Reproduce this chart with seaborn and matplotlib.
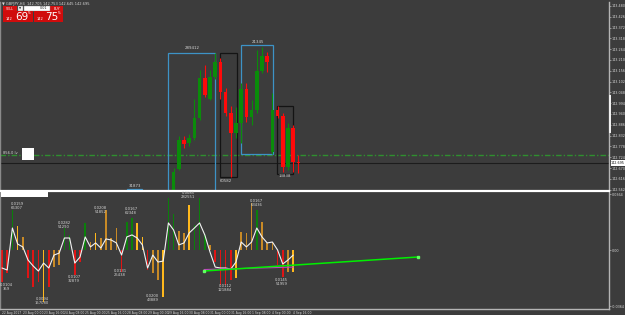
import numpy as np
import pandas as pd
import matplotlib
matplotlib.use("Agg")
import matplotlib.pyplot as plt
import seaborn as sns
from matplotlib.patches import Rectangle

sns.set_theme(style="dark")
plt.rcParams['font.family'] = ['DejaVu Sans']

# ---------------- data ----------------
title_text = "\u25bc GBPJPY,H4  142.705 142.753 142.645 142.695"

candle_index = list(range(33, 58))
candle_open = [142.530, 142.665, 142.810, 142.795, 142.820, 142.920, 143.120, 143.015, 143.125,
               143.200, 143.050, 142.945, 142.845, 142.895, 143.065, 142.925, 142.960, 143.155,
               143.230, 142.750, 142.960, 142.930, 142.675, 142.870, 142.700]
candle_high = [142.670, 142.830, 142.830, 142.840, 143.015, 143.160, 143.185, 143.160, 143.245,
               143.220, 143.070, 142.980, 142.975, 143.095, 143.095, 143.010, 143.260, 143.275,
               143.250, 143.045, 142.980, 142.945, 142.895, 142.885, 142.735]
candle_low = [142.510, 142.660, 142.770, 142.780, 142.810, 142.910, 143.025, 143.010, 143.115,
              143.015, 142.930, 142.625, 142.820, 142.795, 142.900, 142.885, 142.945, 143.145,
              143.150, 142.740, 142.920, 142.650, 142.660, 142.650, 142.645]
candle_close = [142.650, 142.810, 142.790, 142.820, 142.920, 143.120, 143.035, 143.125, 143.200,
                143.050, 142.945, 142.845, 142.895, 143.065, 142.925, 142.960, 143.155, 143.230,
                143.200, 142.960, 142.930, 142.675, 142.870, 142.700, 142.695]

price_ticks = [143.480, 143.426, 143.372, 143.318, 143.264, 143.210, 143.156, 143.102, 143.048,
               142.994, 142.940, 142.886, 142.832, 142.778, 142.724, 142.670, 142.616, 142.562]
price_tick_labels = ["143.480", "143.426", "143.372", "143.318", "143.264", "143.210", "143.156",
                     "143.102", "143.048", "142.994", "142.940", "142.886", "142.832", "142.778",
                     "142.724", "142.670", "142.616", "142.562"]
bid_price = 142.695
level_price = 142.735

box_x0 = [31.9, 41.9, 46.0, 52.9, 24.0]
box_x1 = [41.0, 45.2, 52.1, 56.0, 26.9]
box_lo = [142.400, 142.625, 142.740, 142.640, 142.300]
box_hi = [143.245, 143.245, 143.285, 142.980, 142.565]
box_label = ["289412", "60582", "21345", "13838", "31873"]
box_label_x = [36.5, 43.1, 49.2, 54.4, 25.6]
box_label_y = [143.272, 142.607, 143.300, 142.628, 142.582]
box_kind = ["blue", "dark", "blue", "dark", "blue"]

bar_values = [-0.0208, -0.0150, 0.0260, 0.0156, 0.0085, -0.0182, -0.0241, -0.0208, -0.0338, -0.0241,
              -0.0111, -0.0098, 0.0143, 0.0098, -0.0163, -0.0078, 0.0176, 0.0052, 0.0111, 0.0078,
              0.0260, 0.0078, 0.0143, -0.0143, 0.0182, 0.0208, 0.0176, 0.0085, -0.0130, -0.0150,
              -0.0195, -0.0306, 0.0338, 0.0234, 0.0124, 0.0111, 0.0293, 0.0163, 0.0338, 0.0098,
              0.0033, -0.0078, -0.0228, -0.0228, -0.0195, -0.0182, 0.0117, 0.0111, 0.0306, 0.0260,
              0.0182, 0.0046, 0.0052, -0.0098, -0.0176, -0.0143, -0.0143]
bar_colors = ["r", "r", "g", "y", "o", "r", "r", "r", "y", "r",
              "o", "o", "g", "g", "r", "r", "g", "o", "y", "o",
              "o", "o", "o", "r", "g", "g", "y", "y", "r", "o",
              "o", "y", "g", "g", "o", "o", "y", "g", "g", "g",
              "o", "r", "r", "r", "r", "y", "o", "o", "o", "g",
              "o", "o", "o", "r", "r", "o", "y"]
line_values = [-0.0117, -0.0130, 0.0143, 0.0039, 0.0020, -0.0065, -0.0104, -0.0137, -0.0085, -0.0117,
               -0.0033, -0.0020, 0.0078, 0.0078, -0.0085, -0.0046, 0.0085, 0.0020, 0.0046, 0.0013,
               0.0072, 0.0065, 0.0046, -0.0033, 0.0085, 0.0098, 0.0078, 0.0033, -0.0117, -0.0033,
               -0.0078, -0.0072, 0.0176, 0.0130, 0.0033, 0.0046, 0.0111, 0.0143, 0.0176, 0.0098,
               -0.0013, -0.0111, -0.0117, -0.0117, -0.0124, -0.0078, 0.0052, 0.0020, 0.0052, 0.0143,
               0.0085, 0.0046, 0.0052, 0.0000, -0.0091, -0.0065, -0.0033]

ind_labels = ["0.0159\n66307", "0.0282\n51290", "0.0208\n51852", "0.0167\n62348", "0.0094\n157080",
              "0.0107\n32879", "0.0131\n25438", "0.0200\n43889", "0.0104\n359", "0.0085\n282551",
              "0.0167\n63436", "0.0112\n121884", "0.0145\n51959"]
ind_label_x = [2.9, 11.9, 19.0, 24.8, 7.7, 13.85, 22.7, 29.0, 0.85, 35.8, 49.0, 42.9, 53.8]
ind_label_y = [0.0286, 0.0163, 0.0260, 0.0254, -0.0332, -0.0189, -0.0150, -0.0312, -0.0241, 0.0358,
               0.0306, -0.0247, -0.0208]

trend_x = [38.85, 80.0]
trend_y = [-0.01365, -0.00455]
trend2_x = [38.85, 56.0]
trend2_y = [-0.0127, -0.0111]

ind_ticks = [0.0364, 0.0, -0.0364]
ind_tick_labels = ["0.0364", "0.00", "-0.0364"]

time_tick_index = [0, 4, 8, 12, 16, 20, 24, 28, 32, 36, 40, 44, 48, 52, 56]
time_tick_labels = ["22 Aug 2017", "23 Aug 00:00", "23 Aug 16:00", "24 Aug 08:00", "25 Aug 00:00",
                    "25 Aug 16:00", "28 Aug 08:00", "29 Aug 00:00", "29 Aug 16:00", "30 Aug 08:00",
                    "31 Aug 00:00", "31 Aug 16:00", "1 Sep 08:00", "4 Sep 00:00", "4 Sep 16:00"]

# ---------------- styling ----------------
W, H = 625, 315
BG = "#3c3c3c"
FRAME = "#b4b4b4"
TXT = "#d6d6d6"
GREEN = "#0a8c0a"
RED = "#ff0a0a"
BAR_COL = {"r": "#e01414", "g": "#0b7f0b", "o": "#c88a26", "y": "#ffb81c"}
X0, XS = 2.0, 5.2


def fx(x):
    return x / W


def fy(y):
    return 1 - y / H


fig = plt.figure(figsize=(6.25, 3.15), dpi=100)
fig.patch.set_facecolor(BG)
xlim = ((0 - X0) / XS, (609 - X0) / XS)

# ---------------- main price panel ----------------
ax = fig.add_axes([0, fy(190), 609 / W, 188 / H])
ax.set_facecolor(BG)
ax.set_xlim(*xlim)
ax.set_ylim(142.560, 143.500)
ax.grid(False)

df_c = pd.DataFrame({"i": candle_index, "o": candle_open, "h": candle_high,
                     "l": candle_low, "c": candle_close})
df_c["up"] = df_c["c"] >= df_c["o"]
df_c["col"] = np.where(df_c["up"], GREEN, RED)
ax.vlines(df_c["i"], df_c["l"], df_c["h"], colors=df_c["col"], lw=0.8, zorder=3)
body_lo = np.minimum(df_c["o"], df_c["c"])
body_h = np.maximum(np.abs(df_c["c"] - df_c["o"]), 0.004)
ax.bar(df_c["i"], body_h, bottom=body_lo, width=0.72, color=df_c["col"], linewidth=0, zorder=4)

for x0, x1, lo, hi, lab, lx, ly, kind in zip(box_x0, box_x1, box_lo, box_hi, box_label,
                                             box_label_x, box_label_y, box_kind):
    ec = "#3d93c6" if kind == "blue" else "#141414"
    ax.add_patch(Rectangle((x0, lo), x1 - x0, hi - lo, fill=False, edgecolor=ec, lw=0.9, zorder=2))
    ax.text(lx, ly, lab, color=TXT, fontsize=2.8, ha="center", va="center", zorder=5)

ax.axhline(level_price, color="#2f8f2f", lw=1.0, linestyle=(0, (4, 1.5, 1, 1.5)), zorder=1)
ax.axhline(bid_price, color="#1c1c1c", lw=0.8, zorder=1)

ax.yaxis.tick_right()
ax.set_yticks(price_ticks)
ax.set_yticklabels(price_tick_labels)
ax.tick_params(axis="y", colors=TXT, labelsize=2.4, length=1.5, width=0.5, pad=0.5, color=FRAME)
ax.tick_params(axis="x", bottom=False, labelbottom=False)
for s in ["top", "bottom"]:
    ax.spines[s].set_visible(False)
ax.spines["right"].set_color(FRAME)
ax.spines["right"].set_linewidth(1.0)
ax.spines["left"].set_color("#8a8a8a")
ax.spines["left"].set_linewidth(1.0)

# ---------------- indicator panel ----------------
ax2 = fig.add_axes([0, fy(309), 609 / W, 118 / H])
ax2.set_facecolor(BG)
ax2.set_xlim(*xlim)
ax2.set_ylim(-0.03835, 0.03835)
ax2.grid(False)

bar_idx = list(range(len(bar_values)))
ax2.bar(bar_idx, bar_values, width=0.34, color=[BAR_COL[c] for c in bar_colors], linewidth=0, zorder=2)

df_l = pd.DataFrame({"i": bar_idx, "v": line_values})
sns.lineplot(data=df_l, x="i", y="v", ax=ax2, color="#f2f2f2", lw=0.8, zorder=4, legend=False)

ax2.plot(trend2_x, trend2_y, color="#c040c0", lw=0.8, zorder=5)
ax2.plot(trend_x, trend_y, color="#00f000", lw=1.1, zorder=6)
ax2.plot(trend_x, trend_y, linestyle="none", marker="s", markersize=1.8, color="#60ff60", zorder=7)

for lab, lx, ly in zip(ind_labels, ind_label_x, ind_label_y):
    ax2.text(lx, ly, lab, color=TXT, fontsize=2.7, ha="center", va="center",
             linespacing=1.1, zorder=8)

ax2.yaxis.tick_right()
ax2.set_yticks(ind_ticks)
ax2.set_yticklabels(ind_tick_labels)
ax2.tick_params(axis="y", colors=TXT, labelsize=2.4, length=1.5, width=0.5, pad=0.5, color=FRAME)
ax2.set_xticks(time_tick_index)
ax2.set_xticklabels(time_tick_labels, ha="left")
ax2.tick_params(axis="x", colors=TXT, labelsize=2.2, length=1.2, width=0.5, pad=0.3, color=FRAME)
ax2.set_xlabel("")
ax2.set_ylabel("")
ax2.spines["top"].set_color("#ffffff")
ax2.spines["top"].set_linewidth(1.6)
ax2.spines["bottom"].set_color(FRAME)
ax2.spines["bottom"].set_linewidth(1.0)
ax2.spines["right"].set_color(FRAME)
ax2.spines["right"].set_linewidth(1.0)
ax2.spines["left"].set_color("#8a8a8a")
ax2.spines["left"].set_linewidth(1.0)

# ---------------- overlays in pixel space ----------------
def prect(x0, y0, x1, y1, fc, ec="none", lw=0.0, z=10):
    fig.add_artist(Rectangle((fx(x0), fy(y1)), fx(x1) - fx(x0), fy(y0) - fy(y1),
                             transform=fig.transFigure, facecolor=fc, edgecolor=ec, lw=lw, zorder=z))


prect(1.5, 192, 48, 196.5, "#ffffff")
prect(608.8, 95, 610.6, 133, "#f0f0f0", z=11)

prect(610.5, 159.5, 625, 165.5, "#ffffff", z=12)
fig.text(fx(617.7), fy(162.6), "142.695", color="#111111", fontsize=2.4, ha="center", va="center", zorder=13)

fig.text(fx(2.5), fy(4.2), title_text, color=TXT, fontsize=2.6, ha="left", va="center")

prect(3, 6, 17, 11, "#d41010")
prect(50, 6, 63, 11, "#d41010")
prect(18, 6, 23, 10.5, "#f4f4f4", ec="#888888", lw=0.3)
prect(23.5, 6, 49.5, 10.5, "#ffffff", ec="#888888", lw=0.3)
prect(3, 11, 33, 22, "#d00c0c")
prect(34, 11, 63, 22, "#d00c0c")
fig.text(fx(10), fy(8.6), "SELL", color="white", fontsize=2.3, ha="center", va="center", zorder=12)
fig.text(fx(56.5), fy(8.6), "BUY", color="white", fontsize=2.3, ha="center", va="center", zorder=12)
fig.text(fx(20.5), fy(8.3), "\u25bc", color="#333333", fontsize=2.0, ha="center", va="center", zorder=12)
fig.text(fx(44), fy(8.3), "0.01", color="#222222", fontsize=2.4, ha="center", va="center", zorder=12)
fig.text(fx(9), fy(19), "142", color="white", fontsize=2.6, ha="center", va="center", zorder=12)
fig.text(fx(21.5), fy(16.8), "69", color="white", fontsize=7.5, ha="center", va="center", zorder=12)
fig.text(fx(29.5), fy(13.5), "5", color="white", fontsize=3.2, ha="center", va="center", zorder=12)
fig.text(fx(40), fy(19), "142", color="white", fontsize=2.6, ha="center", va="center", zorder=12)
fig.text(fx(51.5), fy(16.8), "75", color="white", fontsize=7.5, ha="center", va="center", zorder=12)
fig.text(fx(59.5), fy(13.5), "5", color="white", fontsize=3.2, ha="center", va="center", zorder=12)

fig.text(fx(3), fy(153.5), "856.0 lv", color=TXT, fontsize=2.6, ha="left", va="center", zorder=12)
prect(22, 148, 33.5, 160, "#ffffff")

fig.savefig("out.png", dpi=100, facecolor=BG)
